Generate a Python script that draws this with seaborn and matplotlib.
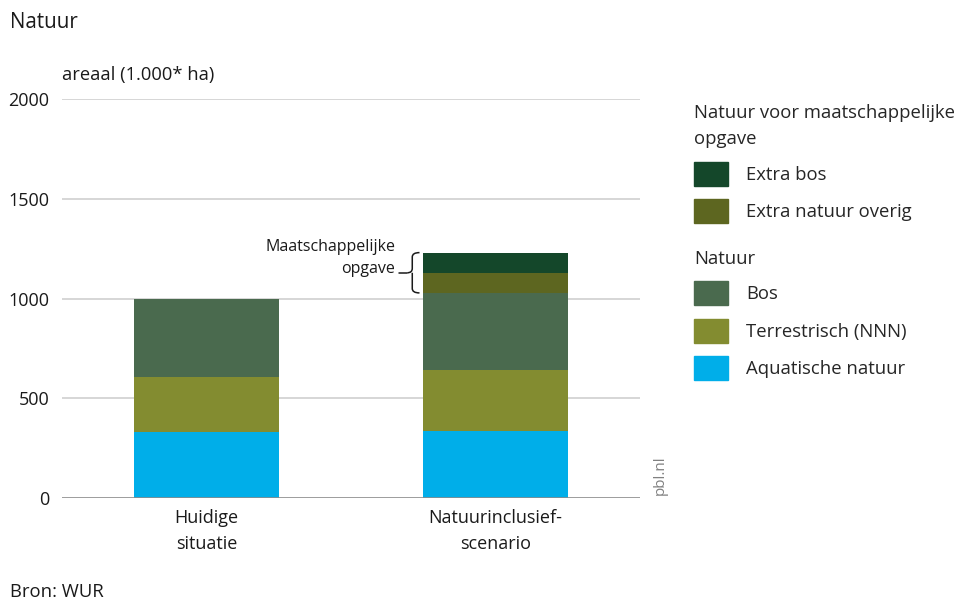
import pandas as pd
import matplotlib.pyplot as plt
import seaborn as sns
from matplotlib.patches import Patch, PathPatch
from matplotlib.path import Path

# data (1.000 ha)
scenarios = ['Huidige\nsituatie', 'Natuurinclusief-\nscenario']
aquatisch = [330, 337]
terrestrisch = [278, 305]
bos = [387, 386]
extra_overig = [0, 101]
extra_bos = [0, 101]

layers = ['Aquatische natuur', 'Terrestrisch (NNN)', 'Bos', 'Extra natuur overig', 'Extra bos']
values = [aquatisch, terrestrisch, bos, extra_overig, extra_bos]
colors = ['#00aee9', '#838c30', '#4a6a4e', '#5d6620', '#14472a']

df = pd.DataFrame(dict(zip(layers, values)), index=scenarios)
cum = df.cumsum(axis=1)

sns.set_style('white')
plt.rcParams['font.family'] = ['Open Sans', 'DejaVu Sans']
txt = '#1a1a1a'

fig = plt.figure(figsize=(9.56, 6.01), dpi=100)
ax = fig.add_axes([62 / 956, 1 - 498 / 601, 578 / 956, 399 / 601])

# draw stacked bars top layer first so lower layers cover it
for name, col in zip(layers[::-1], colors[::-1]):
    sns.barplot(x=cum.index, y=cum[name].values, color=col, width=0.5,
                errorbar=None, ax=ax, saturation=1, linewidth=0, zorder=3)

ax.set_xlim(-0.5, 1.5)
ax.set_ylim(0, 2000)
ax.set_yticks([0, 500, 1000, 1500, 2000])
for y in [500, 1000, 1500, 2000]:
    ax.axhline(y, color='#d0d0d0', lw=1.2, zorder=1)
ax.axhline(0, color='#8c8c8c', lw=1.2, zorder=4)
sns.despine(ax=ax, left=True, bottom=True)
ax.tick_params(axis='both', length=0, colors=txt)
ax.tick_params(axis='y', pad=9, labelsize=13)
ax.tick_params(axis='x', pad=8, labelsize=13)
ax.set_xlabel('')
ax.set_ylabel('')
ax.set_xticks([0, 1])
ax.set_xticklabels(scenarios, linespacing=1.55)

# brace for the societal task part of the second bar
ytop = cum.iloc[1]['Extra bos']
ybot = cum.iloc[1]['Bos']
ymid = (ytop + ybot) / 2
xr, xm, xt = 0.737, 0.712, 0.695
dy = 22
verts = [(xr, ytop), (xm, ytop), (xm, ytop - dy),
         (xm, ymid + dy),
         (xm, ymid), (xt, ymid),
         (xm, ymid), (xm, ymid - dy),
         (xm, ybot + dy),
         (xm, ybot), (xr, ybot)]
codes = [Path.MOVETO, Path.CURVE3, Path.CURVE3,
         Path.LINETO,
         Path.CURVE3, Path.CURVE3,
         Path.MOVETO, Path.CURVE3,
         Path.LINETO,
         Path.CURVE3, Path.CURVE3]
ax.add_patch(PathPatch(Path(verts, codes), fill=False, lw=1.1, color=txt, zorder=5))
ax.plot([0.666, xt], [ymid, ymid], color=txt, lw=1.1, zorder=5)
ax.text(0.653, ymid + 75, 'Maatschappelijke\nopgave', ha='right', va='center',
        fontsize=11.5, linespacing=1.5, color=txt)

# texts
fig.text(10 / 956, 1 - 22 / 601, 'Natuur', fontsize=14.8, va='center', color=txt)
fig.text(62 / 956, 1 - 75 / 601, 'areaal (1.000* ha)', fontsize=13.2, va='center', color=txt)
fig.text(10 / 956, 1 - 592 / 601, 'Bron: WUR', fontsize=13.3, va='center', color=txt)
fig.text(660 / 956, 1 - 495 / 601, 'pbl.nl', fontsize=11, rotation=90, ha='center',
         va='bottom', color='#808080')

# legends
leg_kw = dict(loc='upper left', frameon=False, borderpad=0, borderaxespad=0,
              handlelength=1.84, handleheight=1.62, handletextpad=0.97,
              labelspacing=0.72, fontsize=13.3, title_fontsize=13.3, alignment='left')
h1 = [Patch(color=colors[4], label=layers[4]), Patch(color=colors[3], label=layers[3])]
leg1 = fig.legend(handles=h1, title='Natuur voor maatschappelijke\nopgave',
                  bbox_to_anchor=(694 / 956, 1 - 104 / 601), **leg_kw)
leg1.get_title().set_linespacing(1.6)
h2 = [Patch(color=colors[2], label=layers[2]), Patch(color=colors[1], label=layers[1]),
      Patch(color=colors[0], label=layers[0])]
leg2 = fig.legend(handles=h2, title='Natuur',
                  bbox_to_anchor=(694 / 956, 1 - 250 / 601), **leg_kw)

fig.savefig('out.png', dpi=100)
